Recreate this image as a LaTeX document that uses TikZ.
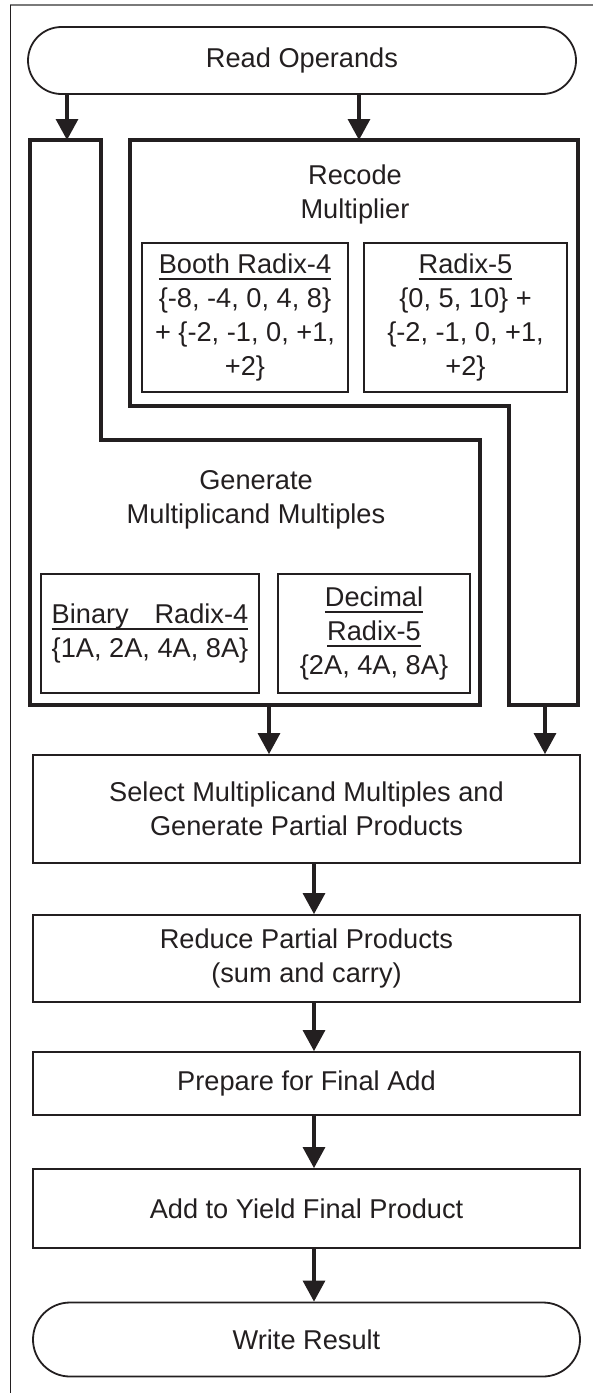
\documentclass[tikz,border=0pt]{standalone}
\usepackage{fontspec}
\setmainfont{Liberation Sans}
\usetikzlibrary{arrows.meta}
\definecolor{ink}{HTML}{231F20}
\definecolor{framegray}{HTML}{7A7A7A}
% underline at a fixed depth below the baseline
\newsavebox\ulbox
\newcommand\ulin[1]{\sbox\ulbox{#1}\rlap{\rule[-6pt]{\wd\ulbox}{1.8pt}}\usebox\ulbox}
\newlength\binw
\begin{document}
\begin{tikzpicture}[x=1pt,y=-1pt,
  txt/.style={font=\fontsize{27.2}{34}\selectfont, text=ink, align=center, inner sep=0pt},
  procbox/.style={txt, draw=ink, line width=1.8pt, minimum width=547pt},
  subbox/.style={txt, draw=ink, line width=1.6pt},
  terminal/.style={procbox, rounded corners=#1},
  region/.style={draw=ink, line width=3.2pt, line join=miter},
  arr/.style={draw=ink, line width=3.2pt, -{Triangle[width=22pt,length=21pt]}}]
\useasboundingbox (0,0) rectangle (593,1393);

% page frame (top and left edges only)
\draw[framegray, line width=1.5pt] (10,5) -- (593,5);
\draw[ink, line width=1.3pt] (10.5,5) -- (10.5,1393);

% terminals
\node[terminal=33.5pt, minimum width=548pt, minimum height=67pt] (ro) at (302,60.5) {Read Operands};
\node[terminal=37pt, minimum height=74pt] (wr) at (306.5,1339.5) {Write Result};

% the two interlocking stages
\draw[region] (30,140) -- (101,140) -- (101,440) -- (480,440) -- (480,705) -- (30,705) -- cycle;
\draw[region] (130,140) -- (578,140) -- (578,705) -- (509,705) -- (509,406) -- (130,406) -- cycle;

\node[txt] (reclab) at (355,194) {Recode\\Multiplier};
\node[txt] (genlab) at (256,499.5) {Generate\\Multiplicand Multiples};

\node[subbox, minimum width=206pt, minimum height=149pt] (booth) at (245,317.5)
  {\ulin{Booth Radix-4}\\\{-8, -4, 0, 4, 8\}\\+ \{-2, -1, 0, +1,\\+2\}};
\node[subbox, minimum width=203pt, minimum height=149pt] (rfive) at (465.5,317.5)
  {\ulin{Radix-5}\\\{0, 5, 10\} +\\\{-2, -1, 0, +1,\\+2\}};
\node[subbox, minimum width=218pt, minimum height=119pt] (binary) at (150,633.5)
  {\settowidth\binw{\{1A, 2A, 4A, 8A\}}\ulin{\makebox[\binw][s]{Binary Radix-4}}\\\{1A, 2A, 4A, 8A\}};
\node[subbox, minimum width=192pt, minimum height=119pt] (decimal) at (374,633.5)
  {\ulin{Decimal}\\\ulin{Radix-5}\\\{2A, 4A, 8A\}};

% process steps
\node[procbox, minimum height=108pt] (sel) at (306.5,809) {Select Multiplicand Multiples and\\Generate Partial Products};
\node[procbox, minimum height=87pt] (red) at (306.5,958.5) {Reduce Partial Products\\(sum and carry)};
\node[procbox, minimum height=63pt] (prep) at (306.5,1083.5) {Prepare for Final Add};
\node[procbox, minimum height=79pt] (add) at (306.5,1208.5) {Add to Yield Final Product};

% connectors
\coordinate (genin) at (67,140);
\coordinate (recin) at (359,140);
\coordinate (genout) at (269,705);
\coordinate (recout) at (545,705);
\coordinate (axis) at (314,0);
\draw[arr] (ro.south -| genin) -- (genin);
\draw[arr] (ro.south -| recin) -- (recin);
\draw[arr] (genout) -- (sel.north -| genout);
\draw[arr] (recout) -- (sel.north -| recout);
\draw[arr] (sel.south -| axis) -- (red.north -| axis);
\draw[arr] (red.south -| axis) -- (prep.north -| axis);
\draw[arr] (prep.south -| axis) -- (add.north -| axis);
\draw[arr] (add.south -| axis) -- (wr.north -| axis);
\end{tikzpicture}
\end{document}
